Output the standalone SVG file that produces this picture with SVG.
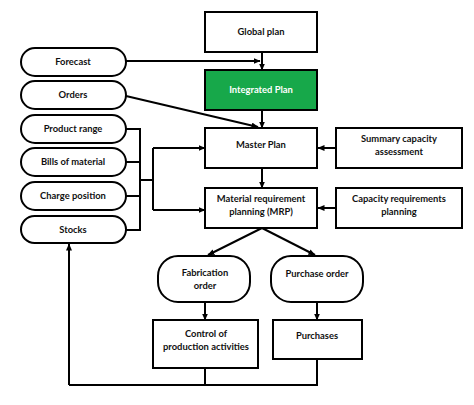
<svg xmlns="http://www.w3.org/2000/svg" width="474" height="405" viewBox="0 0 474 405">
<defs>
<marker id="ah" markerWidth="7" markerHeight="6" refX="6.5" refY="3" orient="auto" markerUnits="userSpaceOnUse">
<path d="M0,0 L7,3 L0,6 Z" fill="#000"/>
</marker>
<style>
.b{fill:#fff;stroke:#000;stroke-width:2}
.g{fill:#17a84a;stroke:#000;stroke-width:2}
.t{font-family:Lato,"Open Sans",sans-serif;font-weight:bold;font-size:9.4px;fill:#111;text-anchor:middle}
.w{fill:#fff}
.c{fill:none;stroke:#000;stroke-width:2}
.a{marker-end:url(#ah)}
</style>
</defs>
<rect width="474" height="405" fill="#fff"/>
<g id="connectors">
<path class="c a" d="M126,61 H260"/>
<path class="c a" d="M262,52 V70"/>
<path class="c a" d="M126,96 L258,127"/>
<path class="c a" d="M262,110 V128"/>
<path class="c a" d="M336,148 H318"/>
<path class="c a" d="M262,168 V188"/>
<path class="c a" d="M336,208 H318"/>
<path class="c" d="M126,129 H140 M126,162 H140 M126,196 H140 M126,230 H140 M140,128 V231 M140,180 H153 M153,148 V210"/>
<path class="c a" d="M153,148 H205"/>
<path class="c a" d="M153,210 H205"/>
<path class="c a" d="M262,228 L208,255"/>
<path class="c a" d="M262,228 L315,255"/>
<path class="c a" d="M205,302 V320"/>
<path class="c a" d="M317,302 V320"/>
<path class="c" d="M205,368 V385 M317,359 V385 H69"/>
<path class="c a" d="M69,385 V244"/>
</g>
<g id="global-plan"><rect class="b" x="205" y="12" width="112" height="40"/><text class="t" x="261" y="35">Global plan</text></g>
<g id="integrated-plan"><rect class="g" x="205" y="70" width="112" height="40"/><text class="t w" x="261" y="93">Integrated Plan</text></g>
<g id="master-plan"><rect class="b" x="205" y="128" width="112" height="40"/><text class="t" x="261" y="148">Master Plan</text></g>
<g id="summary-capacity"><rect class="b" x="336" y="128" width="126" height="40"/><text class="t" x="399" y="142">Summary capacity</text><text class="t" x="399" y="155">assessment</text></g>
<g id="mrp"><rect class="b" x="205" y="188" width="112" height="40"/><text class="t" x="261" y="202">Material requirement</text><text class="t" x="261" y="215">planning (MRP)</text></g>
<g id="capacity-req"><rect class="b" x="336" y="188" width="126" height="40"/><text class="t" x="399" y="202">Capacity requirements</text><text class="t" x="399" y="215">planning</text></g>
<g id="forecast"><rect class="b" x="21" y="48" width="105" height="28" rx="14"/><text class="t" x="73" y="65">Forecast</text></g>
<g id="orders"><rect class="b" x="21" y="81" width="105" height="28" rx="14"/><text class="t" x="73" y="98">Orders</text></g>
<g id="product-range"><rect class="b" x="21" y="115" width="105" height="28" rx="14"/><text class="t" x="73" y="132">Product range</text></g>
<g id="bills"><rect class="b" x="21" y="148" width="105" height="28" rx="14"/><text class="t" x="73" y="165">Bills of material</text></g>
<g id="charge"><rect class="b" x="21" y="182" width="105" height="28" rx="14"/><text class="t" x="73" y="199">Charge position</text></g>
<g id="stocks"><rect class="b" x="21" y="216" width="105" height="27" rx="13.5"/><text class="t" x="73" y="233">Stocks</text></g>
<g id="fabrication-order"><rect class="b" x="158" y="256" width="92" height="46" rx="20"/><text class="t" x="205" y="276">Fabrication</text><text class="t" x="205" y="289">order</text></g>
<g id="purchase-order"><rect class="b" x="271" y="256" width="92" height="46" rx="20"/><text class="t" x="317" y="277">Purchase order</text></g>
<g id="control"><rect class="b" x="153" y="320" width="105" height="48"/><text class="t" x="206" y="337">Control of</text><text class="t" x="206" y="350">production activities</text></g>
<g id="purchases"><rect class="b" x="273" y="320" width="89" height="39"/><text class="t" x="317" y="339">Purchases</text></g>
</svg>
